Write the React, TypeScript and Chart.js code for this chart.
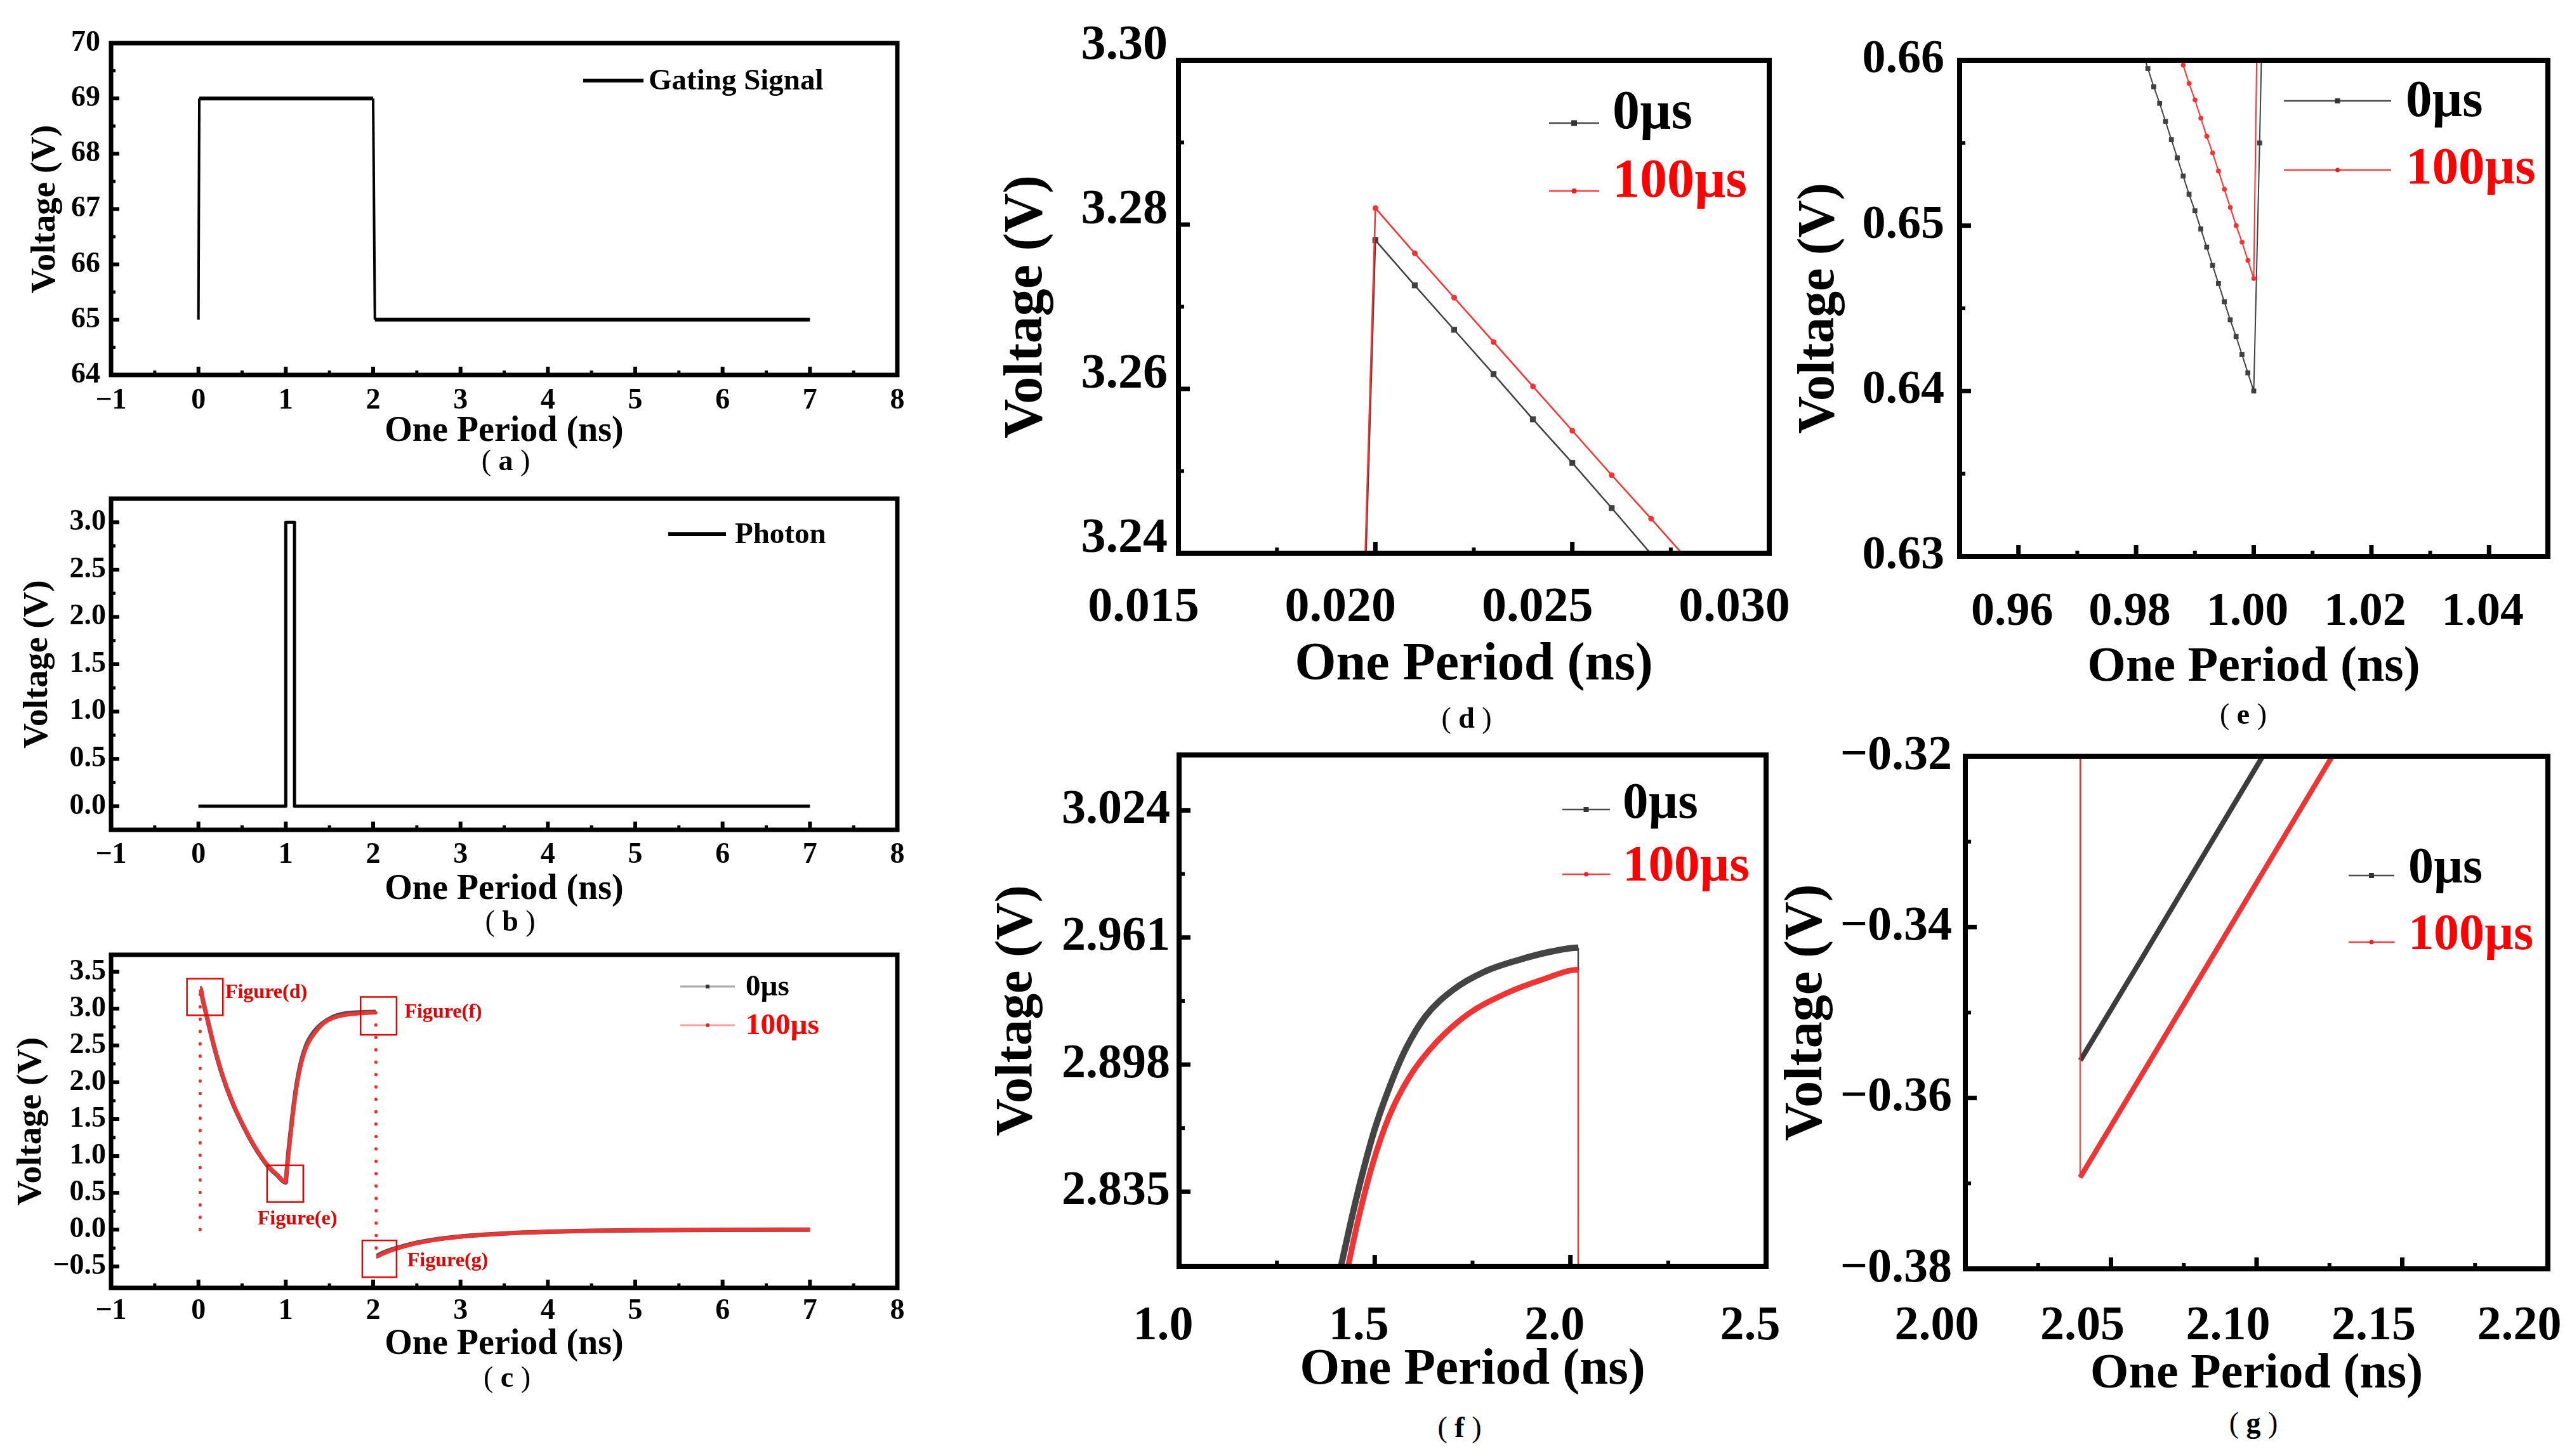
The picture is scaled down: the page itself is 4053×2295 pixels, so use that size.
import React, { useEffect, useRef } from 'react';
import { Chart, registerables } from 'chart.js';

Chart.register(...registerables);

const SERIF = "'Liberation Serif', 'Times New Roman', 'Noto Sans CJK SC', serif";
const BLACK = '#000000';
const DARK = '#404040';
const RED = '#f03434';
const TEXT_RED = '#ff0000';
const NOTE_RED = '#e60000';

Chart.defaults.font.family = SERIF;
Chart.defaults.color = BLACK;

// ---------- (a) gating signal ----------
const gateT = [0, 0.01, 2.0, 2.02, 7.0];
const gateV = [65, 69, 69, 65, 65];

// ---------- (b) photon ----------
const photonT = [0, 1.0, 1.0, 1.1, 1.1, 7.0];
const photonV = [0, 0, 3.0, 3.0, 0, 0];

// ---------- (c) one full period, both stress times ----------
const c0T = [0.019, 0.02, 0.05, 0.1, 0.18, 0.27, 0.38, 0.5, 0.64, 0.79, 0.9, 1.0, 1.001, 1.02, 1.05, 1.08, 1.11, 1.14, 1.18, 1.24, 1.32, 1.42, 1.54, 1.63, 1.78, 1.95, 2.03, 2.035, 2.1, 2.2, 2.4, 2.6, 2.8, 3.0, 3.5, 4.0, 4.5, 5.0, 6.0, 7.0];
const c0V = [0.0, 3.278, 3.12, 2.87, 2.48, 2.11, 1.75, 1.44, 1.13, 0.87, 0.74, 0.64, 0.655, 0.92, 1.27, 1.58, 1.86, 2.08, 2.3, 2.52, 2.68, 2.8, 2.888, 2.922, 2.944, 2.954, 2.956, -0.356, -0.321, -0.275, -0.205, -0.155, -0.118, -0.092, -0.052, -0.028, -0.015, -0.008, -0.002, 0.0];
const c1T = [0.019, 0.02, 0.05, 0.1, 0.18, 0.27, 0.38, 0.5, 0.64, 0.79, 0.9, 1.0, 1.001, 1.02, 1.05, 1.08, 1.11, 1.14, 1.18, 1.24, 1.32, 1.43, 1.54, 1.66, 1.83, 1.93, 2.03, 2.035, 2.1, 2.2, 2.4, 2.6, 2.8, 3.0, 3.5, 4.0, 4.5, 5.0, 6.0, 7.0];
const c1V = [0.0, 3.282, 3.126, 2.876, 2.487, 2.118, 1.758, 1.447, 1.137, 0.877, 0.747, 0.647, 0.674, 0.9, 1.24, 1.55, 1.83, 2.05, 2.27, 2.49, 2.65, 2.797, 2.872, 2.909, 2.933, 2.94, 2.945, -0.369, -0.334, -0.285, -0.213, -0.161, -0.123, -0.096, -0.054, -0.029, -0.016, -0.008, -0.002, 0.0];

// zoom regions marked on (c): [t0, t1, v0, v1]
const zoomBoxes = [
  [-0.131, 0.28, 2.909, 3.406],
  [0.786, 1.2, 0.376, 0.873],
  [1.856, 2.268, 2.644, 3.158],
  [1.876, 2.268, -0.645, -0.146],
];
const zoomNames = ['Figure(d)', 'Figure(e)', 'Figure(f)', 'Figure(g)'];
const zoomNameAt = [
  [0.307, 3.217],
  [1.132, 0.141],
  [2.359, 2.947],
  [2.391, -0.429],
];

// ---------- (d) turn-on peak ----------
const dT = [0.0197, 0.02, 0.021, 0.022, 0.023, 0.024, 0.025, 0.026, 0.027, 0.028];
const d0V = [3.23, 3.2781, 3.2726, 3.2672, 3.2618, 3.2563, 3.251, 3.2455, 3.2399, 3.2344];
const d1V = [3.233, 3.282, 3.2765, 3.2711, 3.2657, 3.2603, 3.2549, 3.2495, 3.2442, 3.2388];

// ---------- (e) minimum at photon arrival ----------
const e0T = [0.981, 0.982, 0.983, 0.984, 0.985, 0.986, 0.987, 0.988, 0.989, 0.99, 0.991, 0.992, 0.993, 0.994, 0.995, 0.996, 0.997, 0.998, 0.999, 1.0, 1.001, 1.002];
const e0V = [0.6606, 0.6595, 0.6584, 0.6574, 0.6563, 0.6552, 0.6541, 0.653, 0.6519, 0.6509, 0.6498, 0.6487, 0.6476, 0.6465, 0.6454, 0.6443, 0.6433, 0.6422, 0.6411, 0.64, 0.655, 0.672];
const e1T = [0.987, 0.988, 0.989, 0.99, 0.991, 0.992, 0.993, 0.994, 0.995, 0.996, 0.997, 0.998, 0.999, 1.0, 1.001];
const e1V = [0.6608, 0.6597, 0.6586, 0.6576, 0.6565, 0.6554, 0.6544, 0.6533, 0.6522, 0.6511, 0.65, 0.649, 0.6479, 0.6468, 0.6735];

// ---------- (f) recharge plateau ----------
const f0T = [1.4, 1.44, 1.47, 1.5, 1.54, 1.58, 1.63, 1.7, 1.78, 1.87, 1.95, 2.02, 2.021];
const f0V = [2.786, 2.821, 2.845, 2.866, 2.888, 2.906, 2.922, 2.935, 2.944, 2.95, 2.954, 2.956, -0.356];
const f1T = [1.42, 1.46, 1.495, 1.536, 1.589, 1.657, 1.738, 1.832, 1.926, 2.02, 2.021];
const f1V = [2.787, 2.823, 2.849, 2.872, 2.892, 2.909, 2.923, 2.933, 2.94, 2.945, -0.369];

// ---------- (g) undershoot after gate-off ----------
const g0T = [2.0394, 2.0395, 2.06, 2.08, 2.1, 2.12];
const g0V = [2.95, -0.3556, -0.344, -0.3326, -0.3212, -0.3098];
const g1T = [2.0393, 2.0394, 2.06, 2.08, 2.1, 2.12, 2.14];
const g1V = [2.945, -0.3693, -0.3576, -0.3462, -0.3348, -0.3234, -0.312];

// ---------- tick values ----------
const periodTicks = [-1, 0, 1, 2, 3, 4, 5, 6, 7, 8];
const periodMinor = [-0.5, 0.5, 1.5, 2.5, 3.5, 4.5, 5.5, 6.5, 7.5];
const aTicks = [64, 65, 66, 67, 68, 69, 70];
const aMinor = [64.5, 65.5, 66.5, 67.5, 68.5, 69.5];
const bTicks = [0, 0.5, 1.0, 1.5, 2.0, 2.5, 3.0];
const bMinor = [0.25, 0.75, 1.25, 1.75, 2.25, 2.75];
const cTicks = [-0.5, 0, 0.5, 1.0, 1.5, 2.0, 2.5, 3.0, 3.5];
const cMinor = [-0.25, 0.25, 0.75, 1.25, 1.75, 2.25, 2.75, 3.25];
const dTicksX = [0.015, 0.02, 0.025, 0.03];
const dMinorX = [0.0175, 0.0225, 0.0275];
const dTicksY = [3.24, 3.26, 3.28, 3.3];
const dMinorY = [3.25, 3.27, 3.29];
const eTicksX = [0.96, 0.98, 1.0, 1.02, 1.04];
const eMinorX = [0.97, 0.99, 1.01, 1.03];
const eTicksY = [0.63, 0.64, 0.65, 0.66];
const eMinorY = [0.635, 0.645, 0.655];
const fTicksX = [1.0, 1.5, 2.0, 2.5];
const fMinorX = [1.25, 1.75, 2.25];
const fTicksY = [2.835, 2.898, 2.961, 3.024];
const fMinorY = [2.8665, 2.9295, 2.9925];
const gTicksX = [2.0, 2.05, 2.1, 2.15, 2.2];
const gMinorX = [2.025, 2.075, 2.125, 2.175];
const gTicksY = [-0.38, -0.36, -0.34, -0.32];
const gMinorY = [-0.37, -0.35, -0.33];

type Marker = 'rect' | 'circle';

interface Series {
  t: number[];
  v: number[];
  color: string;
  width: number;
  order: number;
  smooth?: boolean;
  marker?: Marker;
  markerSize?: number;
  jumpWidth?: number;
  jumpColor?: string;
  jumpDash?: number[];
}

interface LegendRow {
  text: string;
  textColor: string;
  lineColor: string;
  lineWidth: number;
  x1: number;
  x2: number;
  y: number;
  tx: number;
  ty: number;
  size: number;
  marker?: Marker;
  markerColor?: string;
  markerSize?: number;
}

interface PanelSpec {
  plot: number[]; // L T R B in page px
  yW: number;
  xH: number;
  padTop: number;
  padRight: number;
  xRange: number[];
  yRange: number[];
  xTicks: number[];
  yTicks: number[];
  xMinor: number[];
  yMinor: number[];
  xDec: number;
  yDec: number;
  tickFont: number;
  xTitleFont: number;
  yTitleFont: number;
  xPad: number;
  yPad: number;
  xShift: number;
  yShift: number;
  frame: number;
  majorLen: number;
  minorLen: number;
  tickW: number;
  series: Series[];
  legend: LegendRow[];
  notes?: boolean;
  caption: string;
  capX: number;
  capY: number;
  capFont: number;
}

const fmt = (v: number, d: number) => {
  const s = Math.abs(v).toFixed(d);
  return v < -1e-9 ? '\u2212' + s : s;
};

const bold = (size: number) => ({ family: SERIF, size, weight: 'bold' as const, lineHeight: 1 });

const isJump = (ctx: any) =>
  Math.abs(ctx.p1.x - ctx.p0.x) < 4 && Math.abs(ctx.p1.y - ctx.p0.y) > 40;

const legendPair = (
  x1: number, x2: number, tx: number, y0: number, t0: number, y1: number, t1: number,
  size: number, light: boolean, mk0: number, mk1: number,
): LegendRow[] => [
  {
    text: '0\u00b5s', textColor: BLACK, lineColor: light ? '#a8a8a8' : '#4a4a4a', lineWidth: light ? 3 : 2.5,
    x1, x2, y: y0, tx, ty: t0, size, marker: 'rect', markerColor: '#333333', markerSize: mk0,
  },
  {
    text: '100\u00b5s', textColor: TEXT_RED, lineColor: light ? '#f5a3a3' : '#ff4040', lineWidth: light ? 3 : 2.5,
    x1, x2, y: y1, tx, ty: t1, size, marker: 'circle', markerColor: '#ee2020', markerSize: mk1,
  },
];

const leftBase = {
  xRange: [-1, 8], xTicks: periodTicks, xMinor: periodMinor, xDec: 0,
  tickFont: 46, xTitleFont: 56, yTitleFont: 55, xShift: 0, yShift: 0,
  frame: 7, majorLen: 13, minorLen: 7, tickW: 6, padTop: 40, padRight: 40, capFont: 46,
};

const rightBase = { frame: 8, majorLen: 18, minorLen: 9, tickW: 7, capFont: 46 };

const panels: PanelSpec[] = [
  {
    ...leftBase,
    plot: [175, 68, 1414, 591], yW: 131, xH: 118,
    yRange: [64, 70], yTicks: aTicks, yMinor: aMinor, yDec: 0, xPad: 18, yPad: 17,
    series: [{ t: gateT, v: gateV, color: BLACK, width: 6, order: 0, jumpWidth: 4 }],
    legend: [{ text: 'Gating Signal', textColor: BLACK, lineColor: BLACK, lineWidth: 6, x1: 919, x2: 1014, y: 127, tx: 1022, ty: 129, size: 47 }],
    caption: 'a', capX: 797, capY: 726,
  },
  {
    ...leftBase,
    plot: [175, 786, 1414, 1308], yW: 143, xH: 123,
    yRange: [-0.25, 3.25], yTicks: bTicks, yMinor: bMinor, yDec: 1, xPad: 17, yPad: 8,
    series: [{ t: photonT, v: photonV, color: BLACK, width: 5, order: 0 }],
    legend: [{ text: 'Photon', textColor: BLACK, lineColor: BLACK, lineWidth: 6, x1: 1053, x2: 1144, y: 842, tx: 1158, ty: 844, size: 47 }],
    caption: 'b', capX: 804, capY: 1452,
  },
  {
    ...leftBase,
    plot: [175, 1505, 1414, 2030], yW: 153, xH: 118,
    yRange: [-0.79, 3.73], yTicks: cTicks, yMinor: cMinor, yDec: 1, xPad: 14, yPad: 8,
    series: [
      { t: c1T, v: c1V, color: RED, width: 6, order: 0, smooth: true, jumpWidth: 5, jumpColor: '#e83030', jumpDash: [0.5, 19] },
      { t: c0T, v: c0V, color: '#505050', width: 7, order: 1, smooth: true, jumpColor: 'rgba(0,0,0,0)' },
    ],
    legend: legendPair(1072, 1158, 1175, 1555, 1557, 1616, 1618, 47, true, 6, 3),
    notes: true,
    caption: 'c', capX: 799, capY: 2171,
  },
  {
    ...rightBase,
    plot: [1857, 95, 2788, 872], yW: 281, xH: 219, padTop: 80, padRight: 100,
    xRange: [0.015, 0.03], yRange: [3.24, 3.3], xTicks: dTicksX, yTicks: dTicksY, xMinor: dMinorX, yMinor: dMinorY,
    xDec: 3, yDec: 2, tickFont: 78, xTitleFont: 84, yTitleFont: 86, xPad: 48, yPad: 17, xShift: -55, yShift: -22,
    series: [
      { t: dT, v: d1V, color: '#ff3030', width: 2.5, order: 0, marker: 'circle', markerSize: 4.5 },
      { t: dT, v: d0V, color: DARK, width: 2.5, order: 1, marker: 'rect', markerSize: 6.5 },
    ],
    legend: legendPair(2441, 2520, 2541, 194, 180, 301, 288, 86, false, 9, 4),
    caption: 'd', capX: 2311, capY: 1132,
  },
  {
    ...rightBase,
    plot: [3088, 95, 4015, 877], yW: 261, xH: 215, padTop: 60, padRight: 38,
    xRange: [0.95, 1.05], yRange: [0.63, 0.66], xTicks: eTicksX, yTicks: eTicksY, xMinor: eMinorX, yMinor: eMinorY,
    xDec: 2, yDec: 2, tickFont: 74, xTitleFont: 78, yTitleFont: 82, xPad: 52, yPad: 24, xShift: -10, yShift: 0,
    series: [
      { t: e1T, v: e1V, color: '#ff3030', width: 2, order: 0, marker: 'circle', markerSize: 3.8 },
      { t: e0T, v: e0V, color: DARK, width: 2, order: 1, marker: 'rect', markerSize: 5.5 },
    ],
    legend: legendPair(3599, 3768, 3791, 159, 162, 268, 268, 83, false, 8, 3.5),
    caption: 'e', capX: 3535, capY: 1126,
  },
  {
    ...rightBase,
    plot: [1858, 1190, 2783, 1996], yW: 295, xH: 205, padTop: 50, padRight: 60,
    xRange: [1.0, 2.5], yRange: [2.798, 3.0515], xTicks: fTicksX, yTicks: fTicksY, xMinor: fMinorX, yMinor: fMinorY,
    xDec: 1, yDec: 3, tickFont: 76, xTitleFont: 81, yTitleFont: 82, xPad: 57, yPad: 14, xShift: -25, yShift: 0,
    series: [
      { t: f1T, v: f1V, color: RED, width: 9, order: 0, smooth: true, jumpWidth: 2 },
      { t: f0T, v: f0V, color: '#444444', width: 10, order: 1, smooth: true, jumpWidth: 2.5 },
    ],
    legend: legendPair(2462, 2537, 2557, 1276, 1268, 1378, 1367, 81, false, 8, 3.5),
    caption: 'f', capX: 2300, capY: 2250,
  },
  {
    ...rightBase,
    plot: [3097, 1192, 4015, 2000], yW: 291, xH: 206, padTop: 60, padRight: 38,
    xRange: [2.0, 2.2], yRange: [-0.38, -0.32], xTicks: gTicksX, yTicks: gTicksY, xMinor: gMinorX, yMinor: gMinorY,
    xDec: 2, yDec: 2, tickFont: 76, xTitleFont: 78, yTitleFont: 84, xPad: 53, yPad: 21, xShift: -45, yShift: 0,
    series: [
      { t: g1T, v: g1V, color: RED, width: 8, order: 0, jumpWidth: 2 },
      { t: g0T, v: g0V, color: '#3c3c3c', width: 8, order: 1, jumpWidth: 2.5 },
    ],
    legend: legendPair(3701, 3773, 3795, 1380, 1370, 1485, 1475, 80, false, 8, 3.5),
    caption: 'g', capX: 3551, capY: 2243,
  },
];

const canvasBox = (p: PanelSpec) => {
  const [L, T, R, B] = p.plot;
  return {
    left: L - p.yW,
    top: T - p.padTop,
    width: p.yW + (R - L) + p.padRight,
    height: p.padTop + (B - T) + p.xH,
  };
};

function buildConfig(p: PanelSpec): any {
  const box = canvasBox(p);

  const decor = {
    id: 'decor',
    afterDraw(chart: any) {
      const { ctx, chartArea: a } = chart;
      const xs = chart.scales.x;
      const ys = chart.scales.y;
      ctx.save();
      ctx.strokeStyle = BLACK;
      ctx.lineCap = 'butt';
      ctx.lineWidth = p.tickW;
      const tickX = (vals: number[], len: number) =>
        vals.forEach((v) => {
          const x = xs.getPixelForValue(v);
          ctx.beginPath();
          ctx.moveTo(x, a.bottom);
          ctx.lineTo(x, a.bottom - len);
          ctx.stroke();
        });
      const tickY = (vals: number[], len: number) =>
        vals.forEach((v) => {
          const y = ys.getPixelForValue(v);
          ctx.beginPath();
          ctx.moveTo(a.left, y);
          ctx.lineTo(a.left + len, y);
          ctx.stroke();
        });
      tickX(p.xTicks, p.majorLen);
      tickY(p.yTicks, p.majorLen);
      ctx.lineWidth = p.tickW - 1;
      tickX(p.xMinor, p.minorLen);
      tickY(p.yMinor, p.minorLen);

      ctx.lineWidth = p.frame;
      ctx.strokeRect(a.left, a.top, a.right - a.left, a.bottom - a.top);

      if (p.notes) {
        ctx.strokeStyle = NOTE_RED;
        ctx.lineWidth = 2.5;
        zoomBoxes.forEach(([t0, t1, v0, v1]) => {
          const x0 = xs.getPixelForValue(t0);
          const x1 = xs.getPixelForValue(t1);
          const y0 = ys.getPixelForValue(v1);
          const y1 = ys.getPixelForValue(v0);
          ctx.strokeRect(x0, y0, x1 - x0, y1 - y0);
        });
        ctx.fillStyle = NOTE_RED;
        ctx.font = `bold 32px ${SERIF}`;
        ctx.textBaseline = 'middle';
        zoomNames.forEach((name, i) => {
          ctx.textAlign = i === 1 ? 'center' : 'left';
          ctx.fillText(name, xs.getPixelForValue(zoomNameAt[i][0]), ys.getPixelForValue(zoomNameAt[i][1]));
        });
      }

      p.legend.forEach((it) => {
        const y = it.y - box.top;
        ctx.strokeStyle = it.lineColor;
        ctx.lineWidth = it.lineWidth;
        ctx.beginPath();
        ctx.moveTo(it.x1 - box.left, y);
        ctx.lineTo(it.x2 - box.left, y);
        ctx.stroke();
        if (it.marker) {
          const cx = (it.x1 + it.x2) / 2 - box.left;
          const s = it.markerSize || 6;
          ctx.fillStyle = it.markerColor || it.lineColor;
          if (it.marker === 'rect') {
            ctx.fillRect(cx - s / 2, y - s / 2, s, s);
          } else {
            ctx.beginPath();
            ctx.arc(cx, y, s, 0, Math.PI * 2);
            ctx.fill();
          }
        }
        ctx.fillStyle = it.textColor;
        ctx.font = `bold ${it.size}px ${SERIF}`;
        ctx.textAlign = 'left';
        ctx.textBaseline = 'middle';
        ctx.fillText(it.text, it.tx - box.left, it.ty - box.top);
      });
      ctx.restore();
    },
  };

  return {
    type: 'line',
    data: {
      datasets: p.series.map((s) => ({
        data: s.t.map((t, i) => ({ x: t, y: s.v[i] })),
        borderColor: s.color,
        backgroundColor: s.color,
        borderWidth: s.width,
        borderJoinStyle: 'round',
        borderCapStyle: 'butt',
        pointRadius: s.marker ? s.markerSize : 0,
        pointStyle: s.marker || 'circle',
        pointBackgroundColor: s.color,
        pointBorderWidth: 0,
        pointHoverRadius: 0,
        tension: 0,
        cubicInterpolationMode: s.smooth ? 'monotone' : 'default',
        fill: false,
        clip: 0,
        order: s.order,
        segment: {
          borderWidth: (ctx: any) => (s.jumpWidth && isJump(ctx) ? s.jumpWidth : undefined),
          borderColor: (ctx: any) => (s.jumpColor && isJump(ctx) ? s.jumpColor : undefined),
          borderDash: (ctx: any) => (s.jumpDash && isJump(ctx) ? s.jumpDash : undefined),
          borderCapStyle: (ctx: any) => (s.jumpDash && isJump(ctx) ? 'round' : undefined),
        },
      })),
    },
    options: {
      responsive: false,
      animation: false,
      events: [],
      devicePixelRatio: 1,
      layout: { padding: { top: p.padTop, right: p.padRight, left: 0, bottom: 0 } },
      plugins: {
        legend: { display: false },
        tooltip: { enabled: false },
        title: { display: false },
      },
      scales: {
        x: {
          type: 'linear',
          min: p.xRange[0],
          max: p.xRange[1],
          grid: { display: false, drawTicks: false },
          border: { display: false },
          ticks: {
            autoSkip: false,
            maxRotation: 0,
            minRotation: 0,
            padding: p.xPad,
            labelOffset: p.xShift,
            color: BLACK,
            font: bold(p.tickFont),
            callback: (v: number) => fmt(v, p.xDec),
          },
          afterBuildTicks: (sc: any) => {
            sc.ticks = p.xTicks.map((value) => ({ value }));
          },
          afterFit: (sc: any) => {
            sc.height = p.xH;
            sc.paddingLeft = 0;
            sc.paddingRight = 0;
          },
          title: { display: true, text: 'One Period (ns)', color: BLACK, font: bold(p.xTitleFont), padding: 0 },
        },
        y: {
          type: 'linear',
          position: 'left',
          min: p.yRange[0],
          max: p.yRange[1],
          grid: { display: false, drawTicks: false },
          border: { display: false },
          ticks: {
            autoSkip: false,
            padding: p.yPad,
            labelOffset: p.yShift,
            color: BLACK,
            font: bold(p.tickFont),
            callback: (v: number) => fmt(v, p.yDec),
          },
          afterBuildTicks: (sc: any) => {
            sc.ticks = p.yTicks.map((value) => ({ value }));
          },
          afterFit: (sc: any) => {
            sc.width = p.yW;
            sc.paddingTop = 0;
            sc.paddingBottom = 0;
          },
          title: { display: true, text: 'Voltage (V)', color: BLACK, font: bold(p.yTitleFont), padding: 0 },
        },
      },
    },
    plugins: [decor],
  };
}

function PanelChart({ p }: { p: PanelSpec }) {
  const canvasRef = useRef<HTMLCanvasElement | null>(null);
  const chartRef = useRef<Chart | null>(null);
  const box = canvasBox(p);

  useEffect(() => {
    if (!canvasRef.current) return;
    if (chartRef.current) chartRef.current.destroy();
    chartRef.current = new Chart(canvasRef.current, buildConfig(p));
    return () => {
      if (chartRef.current) {
        chartRef.current.destroy();
        chartRef.current = null;
      }
    };
  }, [p]);

  return (
    <div style={{ position: 'absolute', left: box.left, top: box.top, width: box.width, height: box.height }}>
      <canvas ref={canvasRef} width={box.width} height={box.height} style={{ width: box.width, height: box.height }} />
    </div>
  );
}

function Caption({ p }: { p: PanelSpec }) {
  const paren = { fontWeight: 400 as const };
  return (
    <div
      style={{
        position: 'absolute',
        left: p.capX,
        top: p.capY,
        transform: 'translate(-50%, -50%)',
        fontFamily: SERIF,
        fontWeight: 'bold',
        fontSize: p.capFont,
        lineHeight: 1,
        whiteSpace: 'pre',
        color: BLACK,
      }}
    >
      <span style={paren}>(</span>
      {' ' + p.caption + ' '}
      <span style={paren}>)</span>
    </div>
  );
}

export default function App() {
  return (
    <div
      style={{
        position: 'absolute',
        left: 0,
        top: 0,
        width: 4053,
        height: 2295,
        overflow: 'hidden',
        background: '#ffffff',
      }}
    >
      {panels.map((p, i) => (
        <PanelChart key={i} p={p} />
      ))}
      {panels.map((p, i) => (
        <Caption key={'cap' + i} p={p} />
      ))}
    </div>
  );
}
